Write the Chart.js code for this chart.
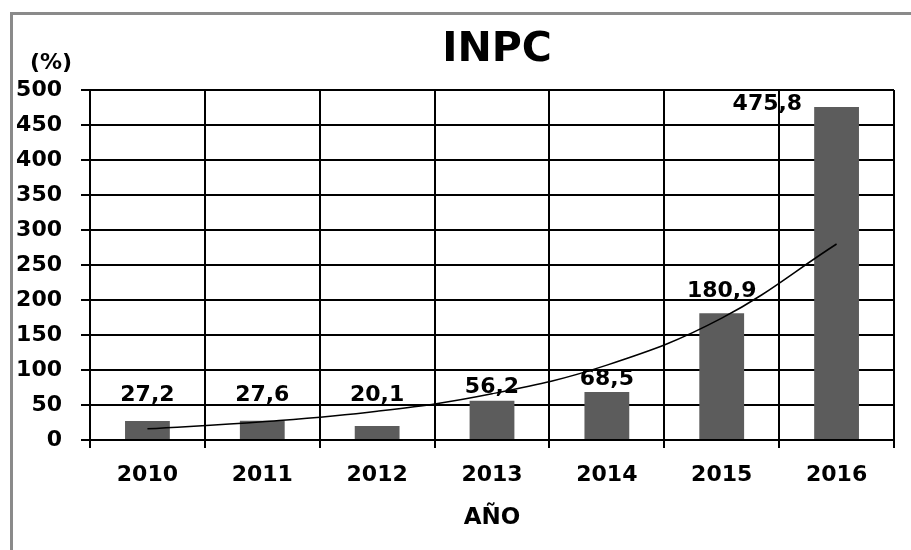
<!DOCTYPE html>
<html lang="es">
<head>
  <meta charset="UTF-8" />
  <title>INPC</title>
  <script src="https://cdn.jsdelivr.net/npm/chart.js"></script>
  <style>
    body { margin: 0; background: #fff; }
    #wrap { position: relative; width: 911px; height: 550px; }
    #frame { position: absolute; left: 10px; top: 12px; right: 0; bottom: 0;
             border-left: 3px solid #8a8a8a; border-top: 3px solid #8a8a8a; }
    canvas { position: absolute; left: 0; top: 0; }
  </style>
</head>
<body>
  <div id="wrap">
    <div id="frame"></div>
    <canvas id="inpcChart" width="911" height="550"></canvas>
  </div>

  <script>
    const years = ["2010", "2011", "2012", "2013", "2014", "2015", "2016"];
    const inpc = [27.2, 27.6, 20.1, 56.2, 68.5, 180.9, 475.8];
    // exponential trend line
    const trend = [16, 26, 41, 66, 107, 174, 280];
    const yTicks = [0, 50, 100, 150, 200, 250, 300, 350, 400, 450, 500];

    const FONT = "'DejaVu Sans', Verdana, sans-serif";

    const extras = {
      id: "extras",
      afterDraw(chart) {
        const { ctx, chartArea, scales } = chart;
        ctx.save();
        ctx.fillStyle = "#000";
        ctx.textAlign = "center";
        ctx.textBaseline = "middle";
        ctx.font = "bold 41px " + FONT;
        ctx.fillText("INPC", (chartArea.left + chartArea.right) / 2 + 5, 50);
        ctx.font = "bold 22px " + FONT;
        ctx.fillText("(%)", 51, 63);

        // value labels
        const meta = chart.getDatasetMeta(1);
        ctx.font = "bold 22px " + FONT;
        meta.data.forEach((bar, i) => {
          const txt = inpc[i].toFixed(1).replace(".", ",");
          if (i === inpc.length - 1) {
            ctx.textAlign = "right";
            ctx.fillText(txt, bar.x - bar.width / 2 - 12, bar.y - 3);
          } else {
            ctx.textAlign = "center";
            let y = Math.min(bar.y - 13, scales.y.getPixelForValue(64));
            if (inpc[i] > 100) y = bar.y - 22;
            ctx.fillText(txt, bar.x, y);
          }
        });
        ctx.restore();
      }
    };

    new Chart(document.getElementById("inpcChart"), {
      data: {
        labels: years,
        datasets: [
          {
            type: "line",
            data: trend,
            borderColor: "#000",
            borderWidth: 1.5,
            pointRadius: 0,
            tension: 0.4,
            order: 0
          },
          {
            type: "bar",
            data: inpc,
            backgroundColor: "#5c5c5c",
            barPercentage: 0.39,
            categoryPercentage: 1,
            order: 1
          }
        ]
      },
      options: {
        responsive: false,
        animation: false,
        layout: { padding: { left: 0, right: 17, top: 90, bottom: 0 } },
        plugins: { legend: { display: false }, tooltip: { enabled: false } },
        scales: {
          x: {
            offset: true,
            grid: { offset: true, color: "#000", lineWidth: 2, tickLength: 8 },
            border: { color: "#000", width: 2 },
            ticks: { color: "#000", font: { family: FONT, size: 22, weight: "bold" }, padding: 14 },
            title: { display: true, text: "AÑO", color: "#000",
                     font: { family: FONT, size: 23, weight: "bold" }, padding: { top: 10, bottom: 18 } },
            afterFit(axis) { axis.height = 110; }
          },
          y: {
            min: 0,
            max: 500,
            afterBuildTicks(axis) { axis.ticks = yTicks.map(v => ({ value: v })); },
            grid: { color: "#000", lineWidth: 2, tickLength: 9 },
            border: { color: "#000", width: 2 },
            ticks: { color: "#000", font: { family: FONT, size: 22, weight: "bold" }, padding: 19 },
            afterFit(axis) { axis.width = 90; }
          }
        }
      },
      plugins: [extras]
    });
  </script>
</body>
</html>
